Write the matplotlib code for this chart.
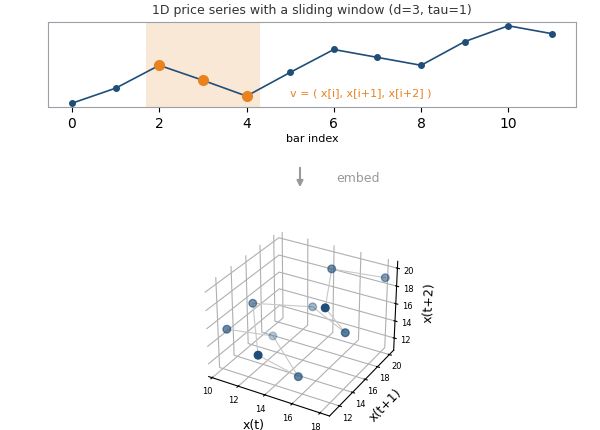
import numpy as np
import matplotlib.pyplot as plt

# price series
bar_index = list(range(12))
price = [10.3, 12.2, 15.1, 13.2, 11.2, 14.2, 17.1, 16.1, 15.1, 18.1, 20.1, 19.1]
window = [2, 3, 4]
d, tau = 3, 1

blue = '#1f4e79'
orange = '#e8821e'
grey = '#999999'

fig = plt.figure(figsize=(6, 4.3), dpi=100)

# top: the 1D series with the sliding window
ax = fig.add_axes([0.08, 0.751, 0.88, 0.198])
ax.axvspan(window[0] - 0.3, window[-1] + 0.3, color=orange, alpha=0.18, lw=0)
ax.plot(bar_index, price, color=blue, lw=1.2, marker='o', ms=4)
ax.plot(window, [price[i] for i in window], 'o', color=orange, ms=7, zorder=3)
ax.text(5, 11.6, 'v = ( x[i], x[i+1], x[i+2] )', color=orange, fontsize=8, va='center')
ax.set_yticks([])
ax.set_xlim(-0.55, 11.55)
ax.set_xlabel('bar index', fontsize=8, labelpad=2)
ax.set_title('1D price series with a sliding window (d=3, tau=1)', fontsize=9, color='#333333')
for s in ax.spines.values():
    s.set_color('#9a9fa8')

# arrow between the panels
fig.patches.append(plt.matplotlib.patches.FancyArrowPatch(
    (0.5, 1 - 165 / 430), (0.5, 1 - 190 / 430), transform=fig.transFigure,
    arrowstyle='-|>', mutation_scale=9, color=grey, lw=1.5))
fig.text(0.56, 1 - 178 / 430, 'embed', color=grey, fontsize=9, va='center')

# bottom: delay embedding in 3D
n = len(price) - (d - 1) * tau
xt = price[:n]
xt1 = price[tau:n + tau]
xt2 = price[2 * tau:n + 2 * tau]

ax3 = fig.add_axes([0.25, 0.001, 0.5, 0.5], projection='3d')
ax3.plot(xt, xt1, xt2, color='#c8c8c8', lw=0.8)
ax3.scatter(xt, xt1, xt2, color=blue, s=30, depthshade=True)
ax3.set_xlabel('x(t)', fontsize=9, labelpad=-6)
ax3.set_ylabel('x(t+1)', fontsize=9, labelpad=-6)
ax3.set_zlabel('x(t+2)', fontsize=9, labelpad=-6)
ax3.set_xticks([10, 12, 14, 16, 18])
ax3.set_yticks([12, 14, 16, 18, 20])
ax3.set_zticks([12, 14, 16, 18, 20])
ax3.tick_params(labelsize=6, pad=-3)
for a in (ax3.xaxis, ax3.yaxis, ax3.zaxis):
    a.set_pane_color((1, 1, 1, 0))

fig.savefig('out.png', dpi=100)
